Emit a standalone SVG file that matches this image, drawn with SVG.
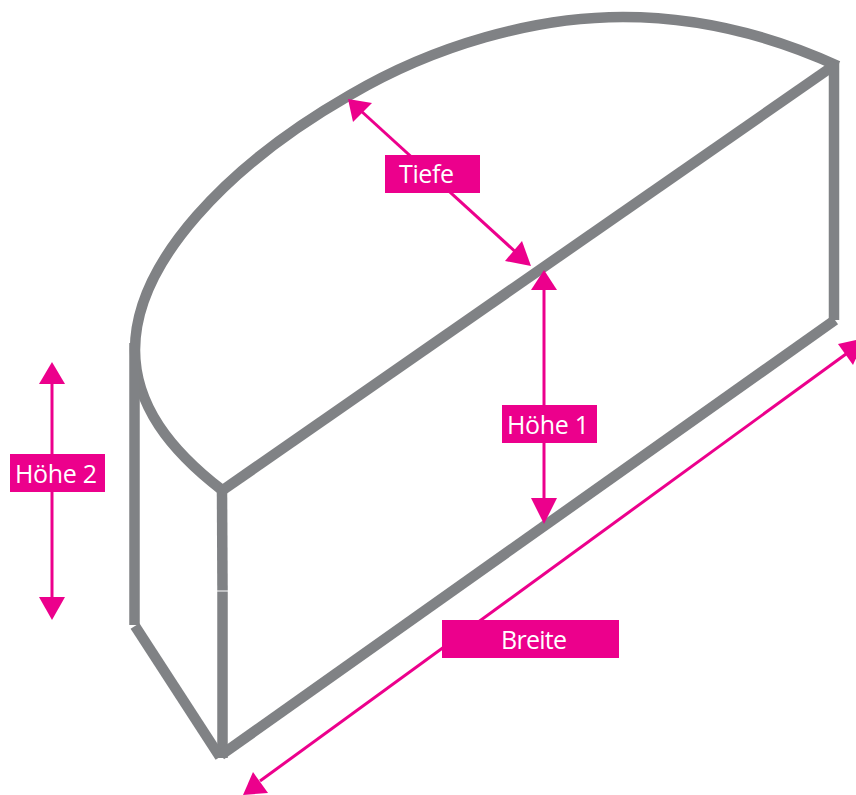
<svg xmlns="http://www.w3.org/2000/svg" width="856" height="795" viewBox="0 0 856 795">
<style>
.body{fill:none;stroke:#808285;stroke-width:10.500}
.dim{fill:none;stroke:#ec008c;stroke-width:3}
.head{fill:#ec008c}
.box{fill:#ec008c}
.lbl{fill:#fff;font-family:"Open Sans","Noto Sans",sans-serif;font-size:25px}
</style>
<rect width="856" height="795" fill="#fff"/>
<g id="body">
<path class="body" d="M838,66 C770,35 700,17 623,17 C535,17 435,45 350,95 C228,165 135,262 135,350 C135,405 170,450 222,490"/>
<path class="body" d="M134.500,343 V625"/>
<path class="body" d="M222,490 L222.500,590.500"/>
<path class="body" d="M222.500,591.500 V758"/>
<path class="body" d="M135,626 L220,757"/>
<path class="body" d="M221,755 L835,320"/>
<path class="body" d="M220,492 L836,64"/>
<path class="body" d="M834,63 V320"/>
</g>
<g id="connectors">
<path class="dim" d="M360,110 L520,256"/>
<polygon class="head" points="348,99 372,103 353,122"/>
<polygon class="head" points="531,266 522,241 505,261"/>
<path class="dim" d="M544,285 V505"/>
<polygon class="head" points="544,270 557,290 531,290"/>
<polygon class="head" points="544,524 557,498 531,498"/>
<path class="dim" d="M52,380 V600"/>
<polygon class="head" points="52,362 65,384 39,384"/>
<polygon class="head" points="52,620 65,597 39,597"/>
<path class="dim" d="M260,781 L846,354"/>
<polygon class="head" points="243,795 253,772 268,793"/>
<polygon class="head" points="865,338 838,344 853,365"/>
</g>
<g id="tiefe"><rect class="box" x="385" y="155" width="95" height="38"/><text class="lbl" x="399" y="183" textLength="55">Tiefe</text></g>
<g id="hoehe1"><rect class="box" x="502" y="405" width="95" height="38"/><text class="lbl" x="507" y="434" textLength="82">Höhe 1</text></g>
<g id="hoehe2"><rect class="box" x="10" y="454" width="95" height="38"/><text class="lbl" x="15" y="483" textLength="82">Höhe 2</text></g>
<g id="breite"><rect class="box" x="442" y="620" width="177" height="38"/><text class="lbl" x="501" y="649" textLength="66">Breite</text></g>
</svg>
